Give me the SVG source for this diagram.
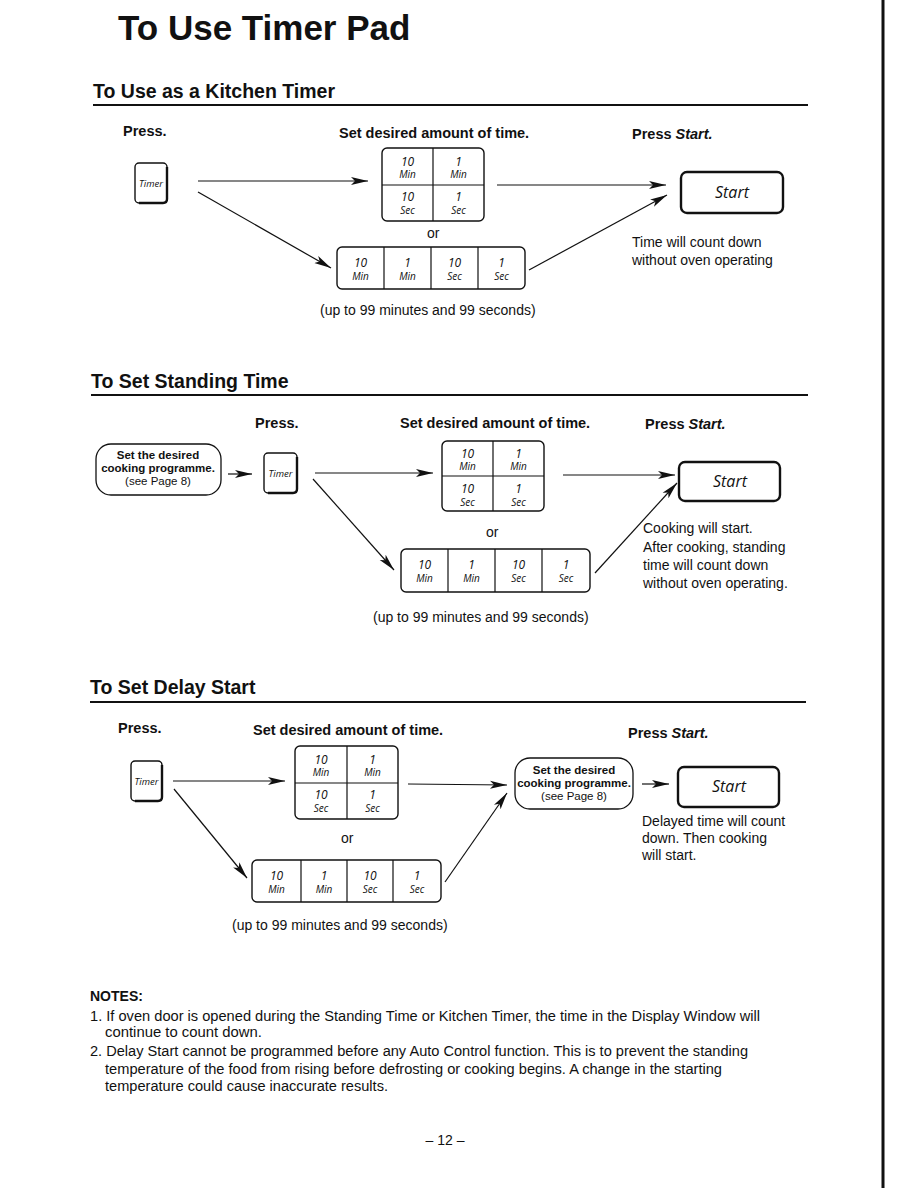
<svg xmlns="http://www.w3.org/2000/svg" width="918" height="1188" viewBox="0 0 918 1188">
<defs>
<style>
.t{font-family:"Liberation Sans",Arial,sans-serif;fill:#111}
.b{font-weight:bold}
.h1{font-size:35px;font-weight:bold}
.h2{font-size:19.5px;font-weight:bold}
.lab{font-size:14.5px;font-weight:bold}
.body{font-size:14px}
.k{font-family:"Open Sans","DejaVu Sans",sans-serif;font-style:italic;fill:#111;text-anchor:middle}
.kn{font-size:12px}
.kl{font-size:10px}
.box{fill:#fff;stroke:#111;stroke-width:1.4}
.div{stroke:#111;stroke-width:1.2;fill:none}
.thick{fill:none;stroke:#111;stroke-width:2.4}
.start{fill:#fff;stroke:#111;stroke-width:2.4}
.prog{fill:#fff;stroke:#111;stroke-width:1.3}
.pt{font-family:"Liberation Sans",Arial,sans-serif;font-size:11.5px;fill:#111;text-anchor:middle}
.rule{stroke:#111;stroke-width:2}
.con line{stroke:#111;stroke-width:1.2;marker-end:url(#ah)}
</style>
<marker id="ah" markerUnits="userSpaceOnUse" markerWidth="18" markerHeight="10" refX="17" refY="5" orient="auto">
<path d="M0,1 L17,5 L0,9 L4,5 z" fill="#111"/>
</marker>
</defs>
<rect width="918" height="1188" fill="#fff"/>
<line x1="883" y1="0" x2="883" y2="1188" stroke="#111" stroke-width="3"/>

<text class="t h1" x="118" y="40">To Use Timer Pad</text>

<!-- Section 1 -->
<g id="sec1-head">
<text class="t h2" x="93" y="98">To Use as a Kitchen Timer</text>
<line class="rule" x1="93" y1="105" x2="808" y2="105"/>
<text class="t lab" x="123" y="136">Press.</text>
<text class="t lab" x="339" y="138">Set desired amount of time.</text>
<text class="t lab" x="632" y="139">Press <tspan font-style="italic">Start.</tspan></text>
</g>
<g id="s1-timer">
<rect class="box" x="135" y="163" width="32" height="40" rx="4"/>
<path class="thick" d="M167,167 V199 Q167,203 163,203 H139"/>
<text class="k" x="151" y="187" font-size="9.5">Timer</text>
</g>
<g id="s1-grid">
<rect class="box" x="382" y="148" width="102" height="73" rx="5"/>
<path class="div" d="M433,148 V221 M382,185 H484"/>
<text class="k kn" x="407.5" y="166">10</text><text class="k kl" x="407.5" y="178">Min</text>
<text class="k kn" x="458.5" y="166">1</text><text class="k kl" x="458.5" y="178">Min</text>
<text class="k kn" x="407.5" y="201">10</text><text class="k kl" x="407.5" y="214">Sec</text>
<text class="k kn" x="458.5" y="201">1</text><text class="k kl" x="458.5" y="214">Sec</text>
</g>
<text class="t body" x="427" y="238">or</text>
<g id="s1-row">
<rect class="box" x="337" y="247" width="188" height="42" rx="5"/>
<path class="div" d="M384,247 V289 M431,247 V289 M478,247 V289"/>
<text class="k kn" x="360.5" y="267">10</text><text class="k kl" x="360.5" y="280">Min</text>
<text class="k kn" x="407.5" y="267">1</text><text class="k kl" x="407.5" y="280">Min</text>
<text class="k kn" x="454.5" y="267">10</text><text class="k kl" x="454.5" y="280">Sec</text>
<text class="k kn" x="501.5" y="267">1</text><text class="k kl" x="501.5" y="280">Sec</text>
</g>
<g id="s1-start">
<rect class="start" x="681" y="172" width="102" height="41" rx="6"/>
<text class="k" x="732" y="198" font-size="16">Start</text>
</g>
<text class="t body" x="632" y="247">Time will count down</text>
<text class="t body" x="632" y="265">without oven operating</text>
<text class="t body" x="320" y="315">(up to 99 minutes and 99 seconds)</text>

<!-- Section 2 -->
<g id="sec2-head">
<text class="t h2" x="91" y="388">To Set Standing Time</text>
<line class="rule" x1="91" y1="395" x2="808" y2="395"/>
<text class="t lab" x="255" y="428">Press.</text>
<text class="t lab" x="400" y="428">Set desired amount of time.</text>
<text class="t lab" x="645" y="429">Press <tspan font-style="italic">Start.</tspan></text>
</g>
<g id="s2-prog">
<rect class="prog" x="96" y="444" width="125" height="51" rx="15"/>
<text class="pt b" x="158" y="459">Set the desired</text>
<text class="pt b" x="158" y="472">cooking programme.</text>
<text class="pt" x="158" y="485">(see Page 8)</text>
</g>
<g id="s2-timer">
<rect class="box" x="264" y="453" width="33" height="40" rx="4"/>
<path class="thick" d="M297,457 V489 Q297,493 293,493 H268"/>
<text class="k" x="280.5" y="477" font-size="9.5">Timer</text>
</g>
<g id="s2-grid">
<rect class="box" x="442" y="441" width="102" height="70" rx="5"/>
<path class="div" d="M493,441 V511 M442,476 H544"/>
<text class="k kn" x="467.5" y="458">10</text><text class="k kl" x="467.5" y="470">Min</text>
<text class="k kn" x="518.5" y="458">1</text><text class="k kl" x="518.5" y="470">Min</text>
<text class="k kn" x="467.5" y="493">10</text><text class="k kl" x="467.5" y="506">Sec</text>
<text class="k kn" x="518.5" y="493">1</text><text class="k kl" x="518.5" y="506">Sec</text>
</g>
<text class="t body" x="486" y="537">or</text>
<g id="s2-row">
<rect class="box" x="401" y="549" width="189" height="43" rx="5"/>
<path class="div" d="M448,549 V592 M495,549 V592 M542,549 V592"/>
<text class="k kn" x="424.5" y="569">10</text><text class="k kl" x="424.5" y="582">Min</text>
<text class="k kn" x="471.5" y="569">1</text><text class="k kl" x="471.5" y="582">Min</text>
<text class="k kn" x="518.5" y="569">10</text><text class="k kl" x="518.5" y="582">Sec</text>
<text class="k kn" x="566" y="569">1</text><text class="k kl" x="566" y="582">Sec</text>
</g>
<g id="s2-start">
<rect class="start" x="679" y="462" width="101" height="39" rx="6"/>
<text class="k" x="730" y="487" font-size="16">Start</text>
</g>
<text class="t body" x="643" y="533">Cooking will start.</text>
<text class="t body" x="643" y="552">After cooking, standing</text>
<text class="t body" x="643" y="570">time will count down</text>
<text class="t body" x="643" y="588">without oven operating.</text>
<text class="t body" x="373" y="622">(up to 99 minutes and 99 seconds)</text>

<!-- Section 3 -->
<g id="sec3-head">
<text class="t h2" x="90" y="694">To Set Delay Start</text>
<line class="rule" x1="90" y1="702" x2="806" y2="702"/>
<text class="t lab" x="118" y="733">Press.</text>
<text class="t lab" x="253" y="735">Set desired amount of time.</text>
<text class="t lab" x="628" y="738">Press <tspan font-style="italic">Start.</tspan></text>
</g>
<g id="s3-timer">
<rect class="box" x="131" y="761" width="31" height="40" rx="4"/>
<path class="thick" d="M162,765 V797 Q162,801 158,801 H135"/>
<text class="k" x="146.5" y="785" font-size="9.5">Timer</text>
</g>
<g id="s3-grid">
<rect class="box" x="295" y="746" width="103" height="73" rx="5"/>
<path class="div" d="M347,746 V819 M295,783 H398"/>
<text class="k kn" x="321" y="764">10</text><text class="k kl" x="321" y="776">Min</text>
<text class="k kn" x="372.5" y="764">1</text><text class="k kl" x="372.5" y="776">Min</text>
<text class="k kn" x="321" y="799">10</text><text class="k kl" x="321" y="812">Sec</text>
<text class="k kn" x="372.5" y="799">1</text><text class="k kl" x="372.5" y="812">Sec</text>
</g>
<text class="t body" x="341" y="843">or</text>
<g id="s3-row">
<rect class="box" x="252" y="860" width="189" height="42" rx="5"/>
<path class="div" d="M301,860 V902 M347,860 V902 M393,860 V902"/>
<text class="k kn" x="276.5" y="880">10</text><text class="k kl" x="276.5" y="893">Min</text>
<text class="k kn" x="324" y="880">1</text><text class="k kl" x="324" y="893">Min</text>
<text class="k kn" x="370" y="880">10</text><text class="k kl" x="370" y="893">Sec</text>
<text class="k kn" x="417" y="880">1</text><text class="k kl" x="417" y="893">Sec</text>
</g>
<g id="s3-prog">
<rect class="prog" x="515" y="758" width="118" height="51" rx="15"/>
<text class="pt b" x="574" y="774">Set the desired</text>
<text class="pt b" x="574" y="787">cooking programme.</text>
<text class="pt" x="574" y="800">(see Page 8)</text>
</g>
<g id="s3-start">
<rect class="start" x="678" y="767" width="101" height="40" rx="6"/>
<text class="k" x="729" y="792" font-size="16">Start</text>
</g>
<text class="t body" x="642" y="826">Delayed time will count</text>
<text class="t body" x="642" y="843">down. Then cooking</text>
<text class="t body" x="642" y="860">will start.</text>
<text class="t body" x="232" y="930">(up to 99 minutes and 99 seconds)</text>

<!-- Connectors -->
<g id="connectors" class="con">
<line x1="198" y1="181" x2="368" y2="181"/>
<line x1="198" y1="192" x2="331" y2="268"/>
<line x1="497" y1="185" x2="666" y2="185"/>
<line x1="529" y1="270" x2="667" y2="195"/>
<line x1="228" y1="474" x2="252" y2="474"/>
<line x1="315" y1="473" x2="433" y2="473"/>
<line x1="313" y1="479" x2="394" y2="570"/>
<line x1="563" y1="475" x2="675" y2="475"/>
<line x1="595" y1="573" x2="677" y2="483"/>
<line x1="173" y1="781" x2="285" y2="781"/>
<line x1="174" y1="789" x2="247" y2="878"/>
<line x1="408" y1="784" x2="507" y2="785"/>
<line x1="445" y1="882" x2="507" y2="793"/>
<line x1="642" y1="784" x2="669" y2="784"/>
</g>

<!-- Notes -->
<g id="notes">
<text class="t body b" x="90" y="1001">NOTES:</text>
<text class="t body" x="90" y="1021" textLength="670" lengthAdjust="spacingAndGlyphs">1. If oven door is opened during the Standing Time or Kitchen Timer, the time in the Display Window will</text>
<text class="t body" x="105" y="1037" textLength="157" lengthAdjust="spacingAndGlyphs">continue to count down.</text>
<text class="t body" x="90" y="1056" textLength="658" lengthAdjust="spacingAndGlyphs">2. Delay Start cannot be programmed before any Auto Control function. This is to prevent the standing</text>
<text class="t body" x="105" y="1074" textLength="617" lengthAdjust="spacingAndGlyphs">temperature of the food from rising before defrosting or cooking begins. A change in the starting</text>
<text class="t body" x="105" y="1091" textLength="283" lengthAdjust="spacingAndGlyphs">temperature could cause inaccurate results.</text>
</g>
<text class="t body" x="445" y="1145" text-anchor="middle">– 12 –</text>
</svg>
